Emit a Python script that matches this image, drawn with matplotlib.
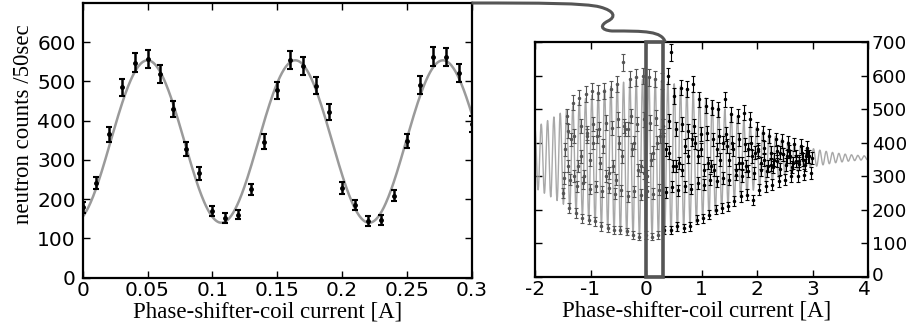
import matplotlib
matplotlib.use('Agg')
import matplotlib.pyplot as plt
import numpy as np
from matplotlib.path import Path
from matplotlib.patches import PathPatch, Rectangle
from matplotlib.transforms import ScaledTranslation

# ---------------- data: left panel (0 - 0.3 A) ----------------
left_current = [0.00, 0.01, 0.02, 0.03, 0.04, 0.05, 0.06, 0.07, 0.08, 0.09,
                0.10, 0.11, 0.12, 0.13, 0.14, 0.15, 0.16, 0.17, 0.18, 0.19,
                0.20, 0.21, 0.22, 0.23, 0.24, 0.25, 0.26, 0.27, 0.28, 0.29, 0.30]
left_counts = [179, 242, 365, 485, 548, 557, 519, 429, 328, 266,
               169, 153, 161, 225, 347, 478, 555, 539, 489, 423,
               229, 185, 144, 147, 209, 348, 491, 563, 562, 522, 392]

# fit parameters
fit_period = 0.114      # A
fit_peak = 0.050        # A, position of a maximum
left_mean, left_amp = 347, 207
right_mean, right_amp, right_center, right_width = 355, 235, 0.0, 1.45

# ---------------- data: right panel (-1.5 - 3 A) ----------------
peak_current = [-1.43, -1.32, -1.20, -1.09, -0.98, -0.86, -0.75, -0.63, -0.52, -0.41,
                -0.29, -0.18, -0.06, 0.05, 0.16, 0.28, 0.39, 0.45, 0.51, 0.62, 0.73,
                0.85, 0.96, 1.08, 1.19, 1.30, 1.42, 1.53, 1.65, 1.76, 1.87,
                1.99, 2.10, 2.22, 2.33, 2.44, 2.56, 2.67, 2.79, 2.90]
peak_counts = [480, 520, 535, 545, 555, 550, 555, 560, 575, 640,
               590, 595, 600, 595, 590, 585, 600, 670, 540, 565, 560,
               575, 530, 510, 505, 500, 530, 485, 480, 490, 470,
               440, 430, 420, 410, 405, 400, 395, 390, 385]
trough_current = [-1.49, -1.39, -1.26, -1.15, -1.03, -0.92, -0.81, -0.69, -0.58, -0.47,
                  -0.35, -0.24, -0.12, -0.01, 0.11, 0.22, 0.33, 0.45, 0.56, 0.68,
                  0.79, 0.91, 1.02, 1.13, 1.25, 1.36, 1.47, 1.59, 1.70, 1.82,
                  1.93, 2.04, 2.16, 2.27, 2.39, 2.50, 2.61, 2.73, 2.84, 2.96]
trough_counts = [250, 205, 190, 175, 170, 165, 150, 145, 140, 140,
                 135, 125, 120, 125, 120, 125, 140, 140, 150, 145,
                 150, 170, 175, 185, 200, 205, 210, 225, 240, 245,
                 230, 260, 270, 275, 285, 290, 300, 300, 305, 310]
rising_current = [-1.46, -1.35, -1.23, -1.12, -1.01, -0.89, -0.78, -0.66, -0.55, -0.44,
                  -0.32, -0.21, -0.09, 0.02, 0.13, 0.25, 0.36, 0.48, 0.59, 0.70,
                  0.82, 0.93, 1.05, 1.16, 1.27, 1.39, 1.50, 1.62, 1.73, 1.84,
                  1.96, 2.07, 2.19, 2.30, 2.41, 2.53, 2.64, 2.76, 2.87, 2.98]
rising_counts = [380, 410, 330, 300, 350, 420, 390, 310, 290, 360,
                 440, 400, 330, 300, 370, 420, 380, 330, 340, 390,
                 410, 360, 320, 330, 380, 400, 350, 320, 340, 380,
                 370, 340, 330, 350, 370, 360, 340, 345, 360, 355]
falling_current = [-1.40, -1.29, -1.17, -1.06, -0.95, -0.83, -0.72, -0.60, -0.49, -0.38,
                   -0.26, -0.15, -0.03, 0.08, 0.19, 0.31, 0.42, 0.54, 0.65, 0.76,
                   0.88, 0.99, 1.11, 1.22, 1.33, 1.45, 1.56, 1.68, 1.79, 1.90,
                   2.02, 2.13, 2.25, 2.36, 2.47, 2.59, 2.70, 2.82, 2.93]
falling_counts = [330, 300, 360, 420, 400, 340, 300, 330, 400, 440,
                  380, 320, 310, 350, 400, 420, 370, 330, 320, 360,
                  400, 380, 340, 320, 350, 390, 380, 340, 330, 360,
                  375, 350, 335, 345, 365, 360, 345, 350, 360]
upper_current = [-1.41, -1.30, -1.18, -1.07, -0.96, -0.84, -0.73, -0.61, -0.50, -0.39,
                 -0.27, -0.16, -0.04, 0.07, 0.18, 0.30, 0.41, 0.53, 0.64, 0.75,
                 0.87, 0.98, 1.10, 1.21, 1.32, 1.44, 1.55, 1.67, 1.78, 1.89,
                 2.01, 2.12, 2.24, 2.35, 2.46, 2.58, 2.69, 2.81, 2.92]
upper_counts = [435, 420, 450, 430, 455, 440, 460, 445, 470, 450,
                480, 455, 470, 460, 475, 450, 465, 440, 455, 435,
                450, 425, 430, 410, 420, 425, 400, 410, 395, 400,
                380, 385, 370, 375, 365, 375, 360, 370, 360]
lower_current = [-1.47, -1.37, -1.24, -1.13, -1.01, -0.90, -0.79, -0.67, -0.56, -0.45,
                 -0.33, -0.22, -0.10, 0.01, 0.13, 0.24, 0.35, 0.47, 0.58, 0.70,
                 0.81, 0.93, 1.04, 1.15, 1.27, 1.38, 1.49, 1.61, 1.72, 1.84,
                 1.95, 2.06, 2.18, 2.29, 2.41, 2.52, 2.63, 2.75, 2.86]
lower_counts = [295, 290, 270, 280, 262, 270, 255, 265, 248, 258,
                240, 255, 245, 255, 248, 260, 252, 268, 258, 270,
                262, 280, 275, 290, 285, 295, 290, 305, 300, 315,
                310, 320, 315, 328, 322, 335, 328, 338, 333]

left_xticks = [0, 0.05, 0.1, 0.15, 0.2, 0.25, 0.3]
left_xticklabels = ['0', '0.05', '0.1', '0.15', '0.2', '0.25', '0.3']
left_yticks = [0, 100, 200, 300, 400, 500, 600]
right_xticks = [-2, -1, 0, 1, 2, 3, 4]
right_xticklabels = ['-2', '-1', '0', '1', '2', '3', '4']
right_yticks = [0, 100, 200, 300, 400, 500, 600, 700]
zoom_range = (0.0, 0.3)

# ---------------- figure ----------------
W, H = 910, 331
fig = plt.figure(figsize=(W / 100, H / 100), dpi=100)

def px_axes(x0, y0, x1, y1):
    return fig.add_axes([x0 / W, 1 - y1 / H, (x1 - x0) / W, (y1 - y0) / H])

sans = ['DejaVu Sans']
serif = ['Liberation Serif', 'DejaVu Serif']
tick_fs = 14.5
label_fs = 16.5

axL = px_axes(82.7, 3, 471.5, 277.7)
axR = px_axes(535, 42.3, 868.3, 276.7)

for ax in (axL, axR):
    for s in ax.spines.values():
        s.set_linewidth(1.6)
        s.set_color('black')
    ax.tick_params(direction='in', length=5, width=1.0, top=True, right=True,
                   labelsize=tick_fs)
    ax.tick_params(axis='x', pad=2.4)
    ax.tick_params(axis='y', pad=5)

def fit_curve(x, mean, amp):
    return mean + amp * np.cos(2 * np.pi * (x - fit_peak) / fit_period)

# left panel
xs = np.linspace(0, 0.3, 600)
axL.plot(xs, fit_curve(xs, left_mean, left_amp), color='#9a9a9a', lw=1.8, zorder=2)
lc = np.array(left_counts, dtype=float)
axL.errorbar(left_current, lc, yerr=np.sqrt(lc), fmt='o', ms=2.5, color='black',
             ecolor='black', elinewidth=1.8, capsize=2.2, capthick=1.5, zorder=3)
axL.set_xlim(0, 0.3)
axL.set_ylim(0, 700)
axL.set_xticks(left_xticks)
axL.set_xticklabels(left_xticklabels, fontfamily=sans)
axL.set_yticks(left_yticks)
axL.set_yticklabels([str(v) for v in left_yticks], fontfamily=sans)
axL.set_xlabel('Phase-shifter-coil current [A]', fontfamily=serif, fontsize=label_fs,
               va='top')
axL.xaxis.set_label_coords(0.4766, -0.0855)
axL.set_ylabel('neutron counts /50sec', fontfamily=serif, fontsize=label_fs, va='center')
axL.yaxis.set_label_coords(-0.153, 0.56)

# right panel
xr = np.linspace(-2, 4, 4000)
env = right_amp * np.exp(-((xr - right_center) ** 2) / (2 * right_width ** 2))
axR.plot(xr, right_mean + env * np.cos(2 * np.pi * (xr - fit_peak) / fit_period),
         color='#a8a8a8', lw=1.0, zorder=2)
for cur, cnt in ((peak_current, peak_counts), (trough_current, trough_counts),
                 (rising_current, rising_counts), (falling_current, falling_counts),
                 (upper_current, upper_counts), (lower_current, lower_counts)):
    cur = np.array(cur)
    cnt = np.array(cnt, dtype=float)
    col = np.where(cur < 0.3, '#555555', 'black')
    for c in ('#555555', 'black'):
        m = col == c
        axR.errorbar(cur[m], cnt[m], yerr=np.sqrt(cnt[m]), fmt='o', ms=1.5, color=c,
                     ecolor=c, elinewidth=0.8, capsize=1.3, capthick=0.8, zorder=3)
axR.set_xlim(-2, 4)
axR.set_ylim(0, 700)
axR.set_xticks(right_xticks)
axR.set_xticklabels(right_xticklabels, fontfamily=sans)
axR.set_yticks(right_yticks)
axR.yaxis.tick_right()
axR.tick_params(left=True, right=True, labelleft=False, labelright=True)
axR.tick_params(axis='y', pad=2.5, labelsize=13.3)
axR.set_yticklabels([str(v) for v in right_yticks], fontfamily=sans)
axR.set_xlabel('Phase-shifter-coil current [A]', fontfamily=serif, fontsize=label_fs,
               va='top')
axR.xaxis.set_label_coords(0.486, -0.1035)

# nudge the corner labels apart ("4" on x and "0" on the right y axis)
last_x = axR.get_xticklabels()[-1]
last_x.set_transform(last_x.get_transform() + ScaledTranslation(-4 / 100, 0, fig.dpi_scale_trans))
first_y = axR.yaxis.get_majorticklabels()[0]
for t in axR.yaxis.get_major_ticks()[:1]:
    t.label2.set_transform(t.label2.get_transform() + ScaledTranslation(0, 3 / 100, fig.dpi_scale_trans))

rect = Rectangle((zoom_range[0], 0), zoom_range[1] - zoom_range[0], 700, fill=False,
                 edgecolor='#555555', lw=2.6, zorder=5, clip_on=False)
axR.add_patch(rect)

# connector from the left panel's top-right corner to the zoom box
pts_px = [(471.5, 3), (540, 3), (585, 3), (600, 7),
          (615, 11), (616, 17), (608, 21),
          (600, 25), (600, 30), (612, 31),
          (645, 31), (662, 31), (665.3, 42.3)]
codes = [Path.MOVETO] + [Path.CURVE4] * 12
verts = [(x / W, 1 - y / H) for x, y in pts_px]
fig.patches.append(PathPatch(Path(verts, codes), transform=fig.transFigure,
                             facecolor='none', edgecolor='#555555', lw=2.2, zorder=6))

fig.savefig('out.png', dpi=100)
